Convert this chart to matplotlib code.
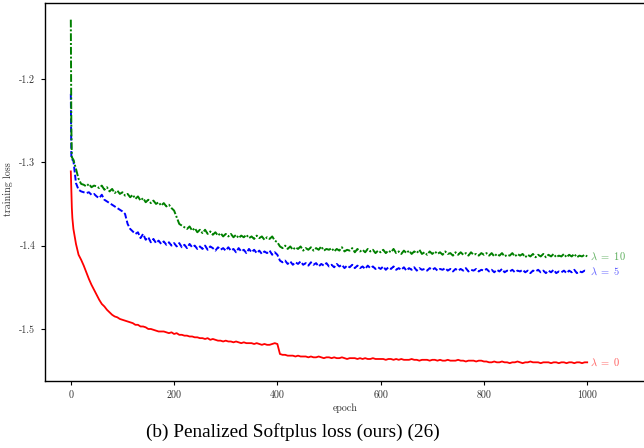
import matplotlib
matplotlib.use("Agg")
import matplotlib.pyplot as plt

epochs = [0, 1, 2, 3] + list(range(5, 1001, 5))

loss_lam0 = [
    -1.311, -1.335, -1.355, -1.367,
    -1.380, -1.398, -1.411, -1.417, -1.424, -1.432, -1.440, -1.447, -1.453, -1.459,
    -1.465, -1.470, -1.473, -1.477, -1.480, -1.483, -1.485, -1.486, -1.488, -1.489,
    -1.490, -1.491, -1.492, -1.493, -1.495, -1.495, -1.497, -1.497, -1.498, -1.500,
    -1.500, -1.501, -1.502, -1.503, -1.503, -1.503, -1.504, -1.505, -1.504, -1.506,
    -1.505, -1.507, -1.507, -1.508, -1.508, -1.509, -1.509, -1.510, -1.510, -1.511,
    -1.511, -1.512, -1.511, -1.513, -1.512, -1.513, -1.514, -1.514, -1.515, -1.514,
    -1.515, -1.515, -1.516, -1.515, -1.516, -1.517, -1.516, -1.517, -1.517, -1.517,
    -1.518, -1.517, -1.518, -1.519, -1.518, -1.519, -1.519, -1.518, -1.517, -1.518,
    -1.530, -1.531, -1.531, -1.532, -1.532, -1.532, -1.533, -1.532, -1.533, -1.533,
    -1.533, -1.534, -1.533, -1.534, -1.534, -1.533, -1.534, -1.535, -1.534, -1.534,
    -1.535, -1.534, -1.535, -1.535, -1.534, -1.535, -1.536, -1.535, -1.535, -1.535,
    -1.536, -1.535, -1.536, -1.535, -1.536, -1.536, -1.535, -1.536, -1.536, -1.536,
    -1.536, -1.537, -1.536, -1.536, -1.537, -1.536, -1.537, -1.536, -1.537, -1.537,
    -1.537, -1.536, -1.537, -1.537, -1.538, -1.537, -1.537, -1.537, -1.538, -1.537,
    -1.537, -1.538, -1.537, -1.538, -1.538, -1.537, -1.538, -1.538, -1.538, -1.537,
    -1.538, -1.538, -1.539, -1.538, -1.538, -1.538, -1.539, -1.538, -1.538, -1.539,
    -1.539, -1.540, -1.540, -1.539, -1.540, -1.540, -1.539, -1.540, -1.540, -1.541,
    -1.540, -1.540, -1.539, -1.540, -1.541, -1.540, -1.540, -1.539, -1.540, -1.540,
    -1.540, -1.541, -1.540, -1.540, -1.540, -1.541, -1.540, -1.540, -1.541, -1.540,
    -1.540, -1.541, -1.540, -1.540, -1.541, -1.540, -1.540, -1.541, -1.540, -1.540,
]

loss_lam5 = [
    -1.218, -1.293, -1.296, -1.297,
    -1.298, -1.325, -1.333, -1.335, -1.336, -1.337, -1.336, -1.339, -1.338, -1.341,
    -1.343, -1.339, -1.345, -1.347, -1.349, -1.351, -1.353, -1.355, -1.357, -1.359,
    -1.362, -1.374, -1.380, -1.383, -1.386, -1.384, -1.391, -1.386, -1.393, -1.390,
    -1.396, -1.392, -1.397, -1.394, -1.398, -1.395, -1.399, -1.396, -1.400, -1.397,
    -1.401, -1.397, -1.402, -1.399, -1.403, -1.398, -1.402, -1.400, -1.404, -1.401,
    -1.404, -1.400, -1.405, -1.401, -1.403, -1.406, -1.402, -1.405, -1.403, -1.406,
    -1.402, -1.406, -1.404, -1.408, -1.403, -1.407, -1.405, -1.409, -1.404, -1.408,
    -1.405, -1.409, -1.406, -1.410, -1.407, -1.409, -1.406, -1.411, -1.408, -1.411,
    -1.418, -1.420, -1.418, -1.422, -1.419, -1.423, -1.420, -1.422, -1.419, -1.423,
    -1.421, -1.424, -1.420, -1.423, -1.421, -1.425, -1.422, -1.424, -1.421, -1.425,
    -1.423, -1.426, -1.422, -1.425, -1.423, -1.427, -1.424, -1.426, -1.423, -1.427,
    -1.424, -1.427, -1.425, -1.428, -1.424, -1.427, -1.425, -1.428, -1.426, -1.428,
    -1.425, -1.429, -1.426, -1.428, -1.425, -1.429, -1.427, -1.429, -1.426, -1.430,
    -1.427, -1.429, -1.426, -1.430, -1.427, -1.429, -1.428, -1.430, -1.427, -1.429,
    -1.427, -1.430, -1.428, -1.429, -1.427, -1.430, -1.428, -1.431, -1.428, -1.430,
    -1.428, -1.430, -1.427, -1.431, -1.429, -1.430, -1.428, -1.431, -1.429, -1.430,
    -1.428, -1.431, -1.429, -1.432, -1.429, -1.431, -1.428, -1.432, -1.430, -1.431,
    -1.429, -1.432, -1.430, -1.431, -1.429, -1.432, -1.430, -1.433, -1.430, -1.431,
    -1.429, -1.432, -1.430, -1.433, -1.430, -1.432, -1.429, -1.433, -1.431, -1.432,
    -1.430, -1.433, -1.430, -1.432, -1.429, -1.433, -1.431, -1.432, -1.430, -1.431,
]

loss_lam10 = [
    -1.129, -1.260, -1.294, -1.295,
    -1.297, -1.308, -1.320, -1.326, -1.327, -1.329, -1.326, -1.330, -1.328, -1.329,
    -1.331, -1.328, -1.333, -1.330, -1.335, -1.332, -1.337, -1.334, -1.338, -1.336,
    -1.340, -1.338, -1.342, -1.339, -1.344, -1.341, -1.346, -1.343, -1.348, -1.345,
    -1.349, -1.346, -1.350, -1.348, -1.352, -1.349, -1.353, -1.351, -1.355, -1.358,
    -1.366, -1.374, -1.376, -1.378, -1.380, -1.377, -1.382, -1.379, -1.384, -1.381,
    -1.385, -1.381, -1.386, -1.383, -1.387, -1.384, -1.388, -1.385, -1.389, -1.386,
    -1.389, -1.386, -1.390, -1.387, -1.391, -1.388, -1.390, -1.387, -1.391, -1.389,
    -1.392, -1.388, -1.391, -1.389, -1.393, -1.390, -1.392, -1.389, -1.394, -1.396,
    -1.401, -1.403, -1.400, -1.404, -1.401, -1.405, -1.402, -1.404, -1.401, -1.406,
    -1.403, -1.405, -1.402, -1.406, -1.403, -1.405, -1.401, -1.406, -1.404, -1.405,
    -1.403, -1.407, -1.404, -1.406, -1.402, -1.407, -1.405, -1.406, -1.403, -1.408,
    -1.404, -1.407, -1.405, -1.408, -1.404, -1.407, -1.405, -1.409, -1.406, -1.408,
    -1.405, -1.409, -1.406, -1.408, -1.404, -1.409, -1.407, -1.410, -1.406, -1.409,
    -1.406, -1.410, -1.407, -1.409, -1.405, -1.410, -1.408, -1.411, -1.407, -1.410,
    -1.407, -1.410, -1.408, -1.411, -1.407, -1.410, -1.409, -1.412, -1.408, -1.411,
    -1.408, -1.411, -1.409, -1.412, -1.408, -1.411, -1.410, -1.412, -1.409, -1.411,
    -1.409, -1.412, -1.409, -1.413, -1.410, -1.412, -1.409, -1.413, -1.411, -1.412,
    -1.409, -1.413, -1.410, -1.412, -1.410, -1.414, -1.411, -1.413, -1.410, -1.414,
    -1.411, -1.413, -1.410, -1.414, -1.411, -1.413, -1.410, -1.414, -1.412, -1.413,
    -1.410, -1.414, -1.411, -1.413, -1.410, -1.414, -1.412, -1.413, -1.411, -1.413,
]

series_labels = [r"$\lambda\ =\ 10$", r"$\lambda\ =\ 5$", r"$\lambda\ =\ 0$"]
x_ticks = [0, 200, 400, 600, 800, 1000]
y_ticks = [-1.5, -1.4, -1.3, -1.2]
y_tick_labels = ["-1.5", "-1.4", "-1.3", "-1.2"]

plt.rcParams["mathtext.fontset"] = "cm"

W, H = 644, 448
fig = plt.figure(figsize=(W / 100, H / 100), dpi=100)
ax_left, ax_right, ax_top, ax_bot = 45, 644, 3, 381
ax = fig.add_axes([ax_left / W, 1 - ax_bot / H, (ax_right - ax_left) / W, (ax_bot - ax_top) / H])

ax.plot(epochs, loss_lam0, color="red", lw=1.3, ls="-")
ax.plot(epochs, loss_lam5, color="blue", lw=1.4, ls=(0, (3, 1.2)))
ax.plot(epochs, loss_lam10, color="green", lw=1.4, ls=(0, (4, 1, 1, 1)))

ax.text(1006, loss_lam10[-1], series_labels[0], color="green", alpha=0.65,
        fontsize=7.5, va="center", ha="left")
ax.text(1006, loss_lam5[-1], series_labels[1], color="blue", alpha=0.65,
        fontsize=7.5, va="center", ha="left")
ax.text(1006, loss_lam0[-1], series_labels[2], color="red", alpha=0.65,
        fontsize=7.5, va="center", ha="left")

ax.set_xlim(-50, 1110)
ax.set_ylim(-1.5624, -1.109)
ax.set_xticks(x_ticks)
ax.set_xticklabels([str(t) for t in x_ticks], family="cmr10", fontsize=7.2, color="#333333")
ax.set_yticks(y_ticks)
ax.set_yticklabels(y_tick_labels, family="cmr10", fontsize=7.2, color="#333333")
ax.tick_params(direction="out", length=3, width=0.8, pad=4)
ax.spines["right"].set_visible(False)
for s in ["left", "bottom", "top"]:
    ax.spines[s].set_linewidth(1.0)

ax.set_xlabel("epoch", family="cmr10", fontsize=7.2, color="#333333")
ax.xaxis.set_label_coords((345 - ax_left) / (ax_right - ax_left), -(403 - ax_bot) / (ax_bot - ax_top))
ax.set_ylabel("training loss", family="cmr10", fontsize=7.2, color="#333333")
ax.yaxis.set_label_coords(-(ax_left - 13) / (ax_right - ax_left), (ax_bot - 189) / (ax_bot - ax_top))

fig.text(293 / W, 1 - 432 / H, "(b) Penalized Softplus loss (ours) (26)",
         family="Liberation Serif", fontsize=13.9, ha="center", va="center")

fig.savefig("out.png", dpi=100)
